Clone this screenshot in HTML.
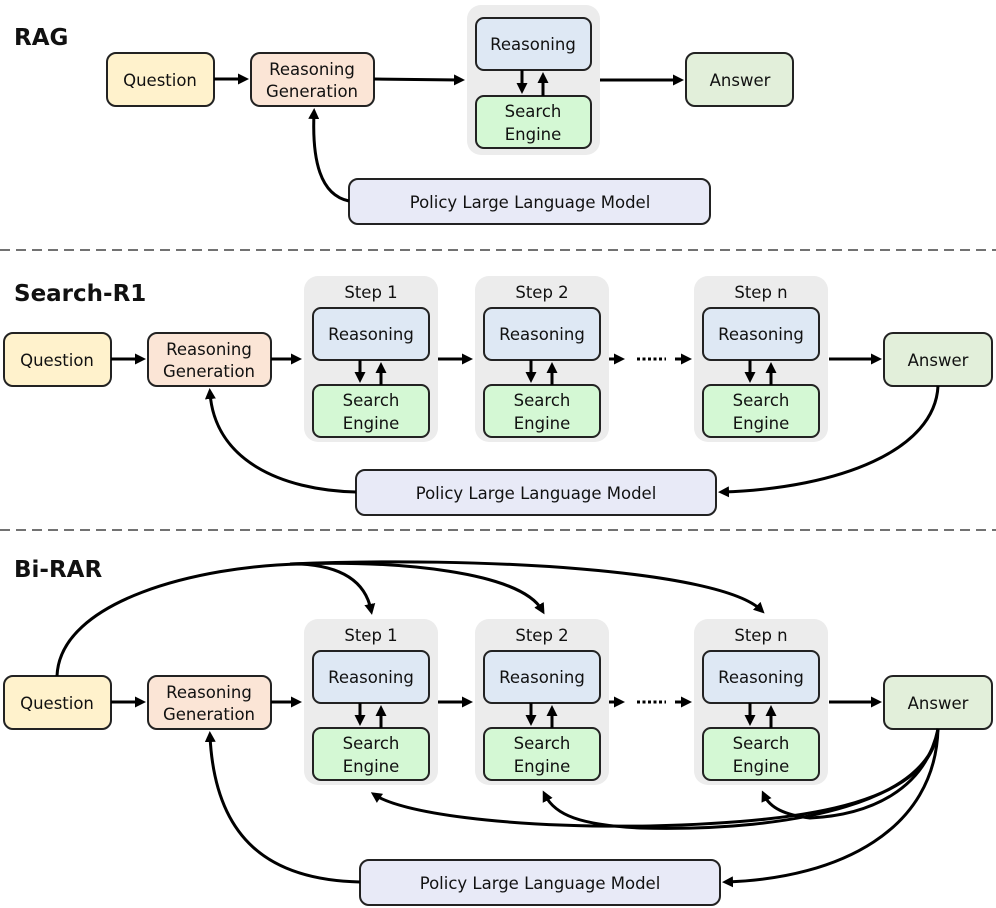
<!DOCTYPE html>
<html><head><meta charset="utf-8"><style>
html,body{margin:0;padding:0;background:#fff}
svg{display:block}
text{font-family:"DejaVu Sans","Liberation Sans",sans-serif;fill:#111;text-anchor:middle}
.t{font-size:16.5px}
.h{font-size:23px;font-weight:bold;text-anchor:start}
.bx{stroke:#222;stroke-width:2}
.ln{stroke:#000;stroke-width:3;fill:none}
</style></head><body>
<svg width="996" height="908" viewBox="0 0 996 908" xmlns="http://www.w3.org/2000/svg">
<defs>
<marker id="a" markerWidth="11" markerHeight="11" refX="6" refY="5.5" orient="auto" markerUnits="userSpaceOnUse">
<path d="M0,0 L11,5.5 L0,11 z" fill="#000"/></marker>
<g id="step">
<rect x="0" y="0" width="134" height="166" rx="14" fill="#ececec"/>
<rect class="bx" x="9" y="32" width="116" height="52" rx="8" fill="#dee8f4"/>
<text class="t" x="67" y="64">Reasoning</text>
<rect class="bx" x="9" y="109" width="116" height="52" rx="8" fill="#d4f8d4"/>
<text class="t" x="67" y="130">Search</text>
<text class="t" x="67" y="153">Engine</text>
<line class="ln" x1="56" y1="84" x2="56" y2="102" marker-end="url(#a)"/>
<line class="ln" x1="77" y1="109" x2="77" y2="91" marker-end="url(#a)"/>
</g>
</defs>

<!-- RAG -->
<text class="h" x="14" y="45">RAG</text>
<rect class="bx" x="107" y="53" width="107" height="53" rx="9" fill="#fff2cc"/>
<text class="t" x="160" y="86">Question</text>
<rect class="bx" x="251" y="53" width="123" height="53" rx="9" fill="#fbe5d6"/>
<text class="t" x="312" y="75">Reasoning</text>
<text class="t" x="312" y="97">Generation</text>
<rect x="467" y="5" width="133" height="150" rx="14" fill="#ececec"/>
<rect class="bx" x="476" y="18" width="115" height="52" rx="8" fill="#dee8f4"/>
<text class="t" x="533" y="50">Reasoning</text>
<rect class="bx" x="476" y="96" width="115" height="52" rx="8" fill="#d4f8d4"/>
<text class="t" x="533" y="117">Search</text>
<text class="t" x="533" y="140">Engine</text>
<line class="ln" x1="522" y1="70" x2="522" y2="89" marker-end="url(#a)"/>
<line class="ln" x1="543" y1="96" x2="543" y2="77" marker-end="url(#a)"/>
<rect class="bx" x="686" y="53" width="107" height="53" rx="9" fill="#e2efda"/>
<text class="t" x="740" y="86">Answer</text>
<rect class="bx" x="349" y="179" width="361" height="45" rx="9" fill="#e8eaf7"/>
<text class="t" x="530" y="208">Policy Large Language Model</text>
<line class="ln" x1="214" y1="79" x2="244" y2="79" marker-end="url(#a)"/>
<line class="ln" x1="374" y1="79" x2="460" y2="80" marker-end="url(#a)"/>
<line class="ln" x1="600" y1="80" x2="679" y2="80" marker-end="url(#a)"/>
<path class="ln" d="M349,201 C320,195 312,160 314,113" marker-end="url(#a)"/>

<line x1="0" y1="250" x2="996" y2="250" stroke="#444" stroke-width="1.5" stroke-dasharray="10,6"/>

<!-- Search-R1 -->
<text class="h" x="14" y="301">Search-R1</text>
<rect class="bx" x="4" y="333" width="107" height="53" rx="9" fill="#fff2cc"/>
<text class="t" x="57" y="366">Question</text>
<rect class="bx" x="148" y="333" width="123" height="53" rx="9" fill="#fbe5d6"/>
<text class="t" x="209" y="355">Reasoning</text>
<text class="t" x="209" y="377">Generation</text>
<use href="#step" x="304" y="276"/><text class="t" x="371" y="298">Step 1</text>
<use href="#step" x="475" y="276"/><text class="t" x="542" y="298">Step 2</text>
<use href="#step" x="694" y="276"/><text class="t" x="761" y="298">Step n</text>
<rect class="bx" x="884" y="333" width="108" height="53" rx="9" fill="#e2efda"/>
<text class="t" x="938" y="366">Answer</text>
<rect class="bx" x="356" y="470" width="360" height="45" rx="9" fill="#e8eaf7"/>
<text class="t" x="536" y="499">Policy Large Language Model</text>
<line class="ln" x1="111" y1="359" x2="141" y2="359" marker-end="url(#a)"/>
<line class="ln" x1="271" y1="359" x2="297" y2="359" marker-end="url(#a)"/>
<line class="ln" x1="438" y1="359" x2="468" y2="359" marker-end="url(#a)"/>
<line class="ln" x1="609" y1="359" x2="620" y2="359" marker-end="url(#a)"/>
<line x1="637" y1="359" x2="666" y2="359" stroke="#000" stroke-width="3" stroke-dasharray="3,2.5"/>
<line class="ln" x1="675" y1="359" x2="687" y2="359" marker-end="url(#a)"/>
<line class="ln" x1="829" y1="359" x2="877" y2="359" marker-end="url(#a)"/>
<path class="ln" d="M356,492 C280,490 215,460 210,393" marker-end="url(#a)"/>
<path class="ln" d="M938,386 C935,450 840,488 723,492" marker-end="url(#a)"/>

<line x1="0" y1="530" x2="996" y2="530" stroke="#444" stroke-width="1.5" stroke-dasharray="10,6"/>

<!-- Bi-RAR -->
<text class="h" x="14" y="577">Bi-RAR</text>
<rect class="bx" x="4" y="676" width="107" height="53" rx="9" fill="#fff2cc"/>
<text class="t" x="57" y="709">Question</text>
<rect class="bx" x="148" y="676" width="123" height="53" rx="9" fill="#fbe5d6"/>
<text class="t" x="209" y="698">Reasoning</text>
<text class="t" x="209" y="720">Generation</text>
<use href="#step" x="304" y="619"/><text class="t" x="371" y="641">Step 1</text>
<use href="#step" x="475" y="619"/><text class="t" x="542" y="641">Step 2</text>
<use href="#step" x="694" y="619"/><text class="t" x="761" y="641">Step n</text>
<rect class="bx" x="884" y="676" width="108" height="53" rx="9" fill="#e2efda"/>
<text class="t" x="938" y="709">Answer</text>
<rect class="bx" x="360" y="860" width="360" height="45" rx="9" fill="#e8eaf7"/>
<text class="t" x="540" y="889">Policy Large Language Model</text>
<line class="ln" x1="111" y1="702" x2="141" y2="702" marker-end="url(#a)"/>
<line class="ln" x1="271" y1="702" x2="297" y2="702" marker-end="url(#a)"/>
<line class="ln" x1="438" y1="702" x2="468" y2="702" marker-end="url(#a)"/>
<line class="ln" x1="609" y1="702" x2="620" y2="702" marker-end="url(#a)"/>
<line x1="637" y1="702" x2="666" y2="702" stroke="#000" stroke-width="3" stroke-dasharray="3,2.5"/>
<line class="ln" x1="675" y1="702" x2="687" y2="702" marker-end="url(#a)"/>
<line class="ln" x1="829" y1="702" x2="877" y2="702" marker-end="url(#a)"/>
<!-- top curves -->
<path class="ln" d="M57,676 C60,600 200,566 300,564 C340,566 365,580 371,610" marker-end="url(#a)"/>
<path class="ln" d="M290,564 C400,560 520,572 542,610" marker-end="url(#a)"/>
<path class="ln" d="M290,564 C480,556 720,570 761,610" marker-end="url(#a)"/>
<!-- bottom curves -->
<path class="ln" d="M938,729 C930,800 820,822 650,826 C500,828 400,812 375,795" marker-end="url(#a)"/>
<path class="ln" d="M938,729 C930,800 800,832 640,828 C580,825 555,815 545,795" marker-end="url(#a)"/>
<path class="ln" d="M938,729 C925,790 870,815 810,818 C785,815 770,808 764,795" marker-end="url(#a)"/>
<path class="ln" d="M938,729 C935,830 840,878 727,882" marker-end="url(#a)"/>
<path class="ln" d="M360,882 C270,880 215,840 210,736" marker-end="url(#a)"/>
</svg>
</body></html>
